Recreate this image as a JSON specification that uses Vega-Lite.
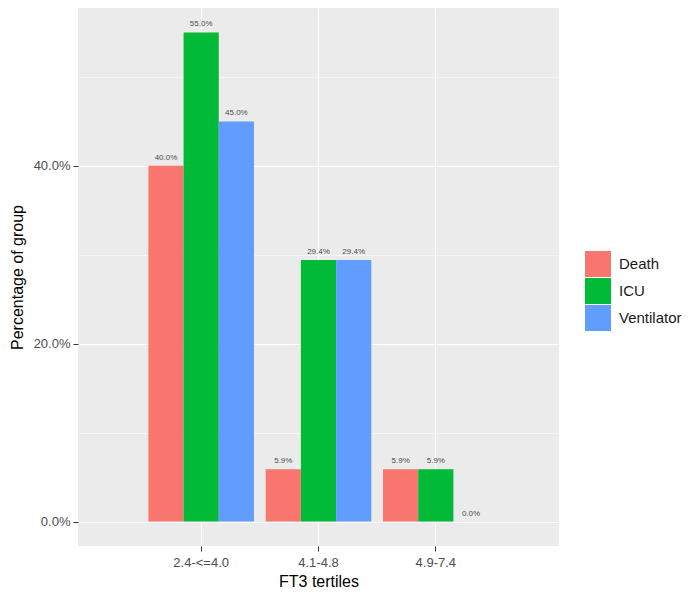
{
  "$schema": "https://vega.github.io/schema/vega-lite/v6.json",
  "autosize": {"type": "none"},
  "padding": {"left": 78, "top": 8, "right": 129, "bottom": 49},
  "width": 481,
  "height": 538,
  "background": "white",
  "config": {
    "view": {"fill": "#EBEBEB", "stroke": null},
    "font": "Liberation Sans"
  },
  "data": {
    "values": [
      {"tertile": "2.4-<=4.0", "outcome": "Death", "pct": 0.4},
      {"tertile": "2.4-<=4.0", "outcome": "ICU", "pct": 0.55},
      {"tertile": "2.4-<=4.0", "outcome": "Ventilator", "pct": 0.45},
      {"tertile": "4.1-4.8", "outcome": "Death", "pct": 0.0588},
      {"tertile": "4.1-4.8", "outcome": "ICU", "pct": 0.2941},
      {"tertile": "4.1-4.8", "outcome": "Ventilator", "pct": 0.2941},
      {"tertile": "4.9-7.4", "outcome": "Death", "pct": 0.0588},
      {"tertile": "4.9-7.4", "outcome": "ICU", "pct": 0.0588},
      {"tertile": "4.9-7.4", "outcome": "Ventilator", "pct": 0.0}
    ]
  },
  "encoding": {
    "x": {
      "field": "tertile", "type": "nominal",
      "scale": {"paddingInner": 0.1, "paddingOuter": 0.6},
      "axis": {
        "title": "FT3 tertiles", "labelAngle": 0, "grid": true,
        "gridColor": "white", "gridWidth": 1.1, "domain": false,
        "tickColor": "#333333", "tickSize": 5, "labelPadding": 5,
        "labelColor": "#4D4D4D", "labelFontSize": 13,
        "titleFontSize": 16, "titleFontWeight": "normal", "titleColor": "black", "titlePadding": 4
      }
    },
    "xOffset": {"field": "outcome", "type": "nominal", "scale": {"paddingInner": 0, "paddingOuter": 0}},
    "y": {
      "field": "pct", "type": "quantitative",
      "scale": {"domain": [-0.0275, 0.5775], "nice": false, "zero": false},
      "axis": {
        "title": "Percentage of group",
        "values": [0, 0.1, 0.2, 0.3, 0.4, 0.5],
        "labelExpr": "(round(datum.value*100) % 20 == 0) ? format(datum.value, '.1%') : ''",
        "grid": true, "gridColor": "white",
        "gridWidth": {"condition": {"test": "round(datum.value*100) % 20 == 0", "value": 1.1}, "value": 0.5},
        "tickOpacity": {"condition": {"test": "round(datum.value*100) % 20 == 0", "value": 1}, "value": 0},
        "domain": false, "tickColor": "#333333", "tickSize": 5, "labelPadding": 3,
        "labelColor": "#4D4D4D", "labelFontSize": 13,
        "titleFontSize": 16, "titleFontWeight": "normal", "titleColor": "black", "titlePadding": 8
      }
    }
  },
  "layer": [
    {
      "mark": {"type": "bar"},
      "encoding": {
        "color": {
          "field": "outcome", "type": "nominal",
          "scale": {"domain": ["Death", "ICU", "Ventilator"], "range": ["#F8766D", "#00BA38", "#619CFF"]},
          "legend": {
            "title": null, "orient": "none", "legendX": 507, "legendY": 243,
            "symbolType": "square", "symbolSize": 676, "symbolStrokeWidth": 0, "symbolOpacity": 1,
            "labelFontSize": 15, "labelColor": "#1A1A1A", "rowPadding": 1, "labelOffset": 8
          }
        }
      }
    },
    {
      "mark": {"type": "text", "baseline": "bottom", "dy": -4, "fontSize": 8, "color": "#4D4D4D"},
      "encoding": {
        "text": {"field": "pct", "type": "quantitative", "format": ".1%"}
      }
    }
  ]
}
